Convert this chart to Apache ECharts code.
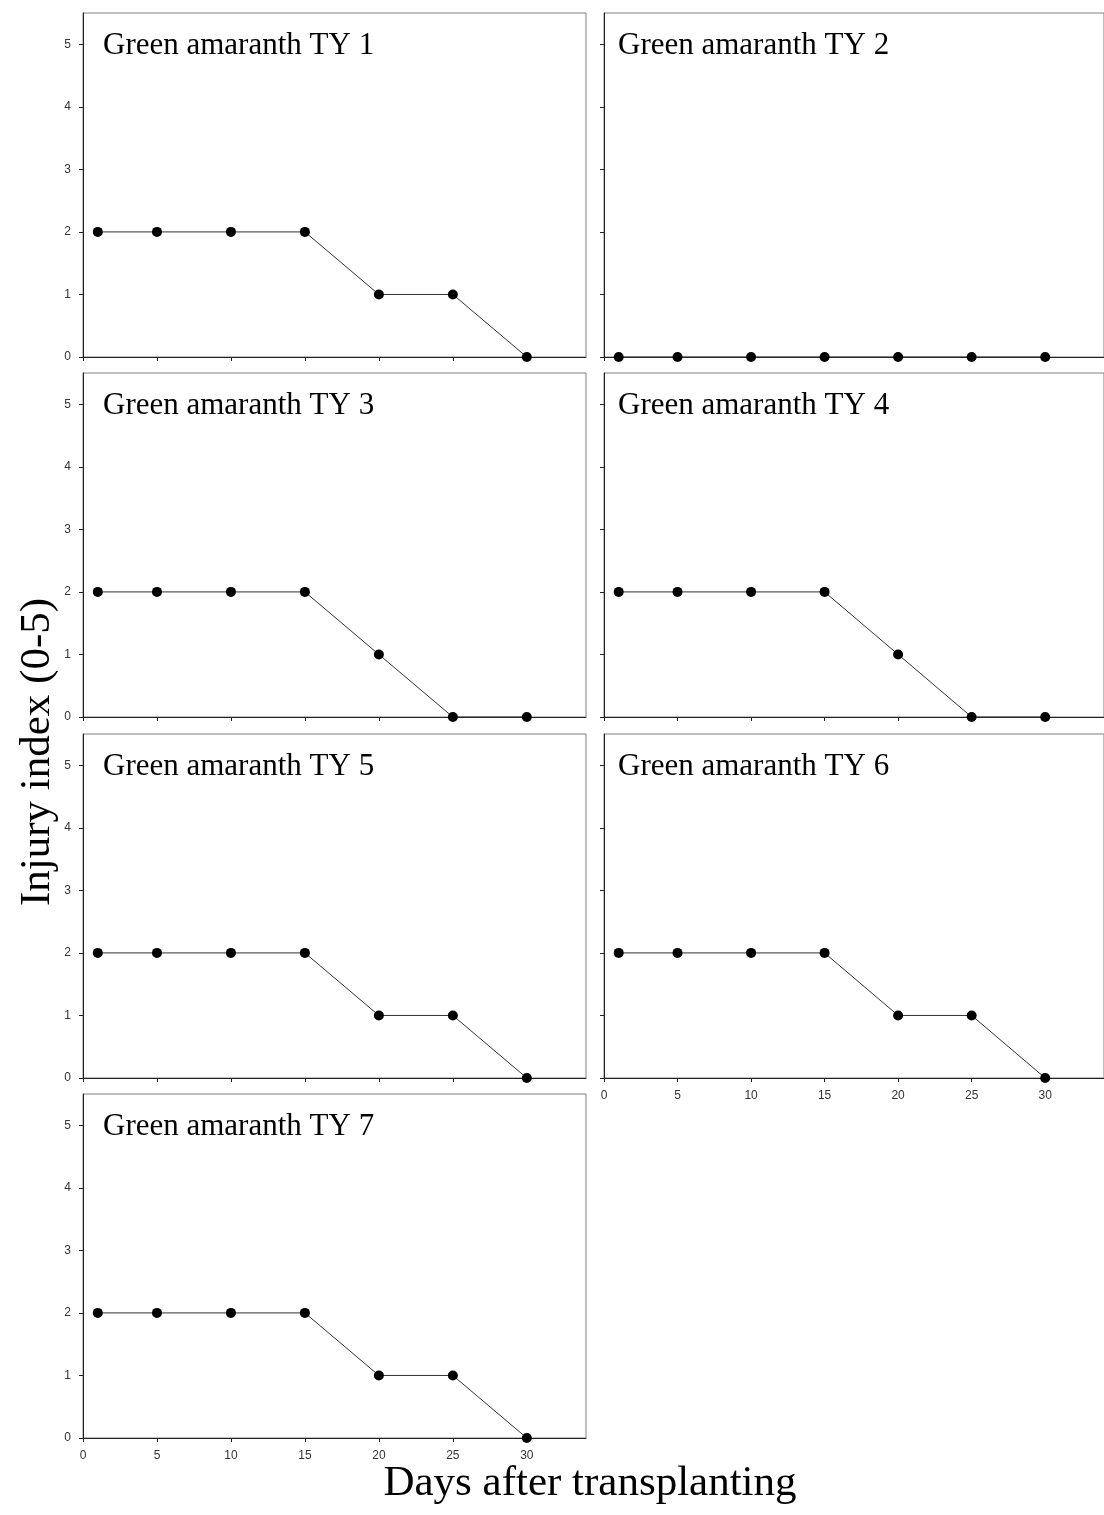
<!DOCTYPE html>
<html><head><meta charset="utf-8">
<script src="https://cdn.jsdelivr.net/npm/echarts@6/dist/echarts.min.js"></script>
<style>html,body{margin:0;padding:0;background:#fff}#c{width:1104px;height:1515px}</style>
</head><body><div id="c"></div>
<script>
var days = [1, 5, 10, 15, 20, 25, 30];
var panelNames = ["Green amaranth TY 1","Green amaranth TY 2","Green amaranth TY 3","Green amaranth TY 4","Green amaranth TY 5","Green amaranth TY 6","Green amaranth TY 7"];
var ty1 = [2, 2, 2, 2, 1, 1, 0];
var ty2 = [0, 0, 0, 0, 0, 0, 0];
var ty3 = [2, 2, 2, 2, 1, 0, 0];
var ty4 = [2, 2, 2, 2, 1, 0, 0];
var ty5 = [2, 2, 2, 2, 1, 1, 0];
var ty6 = [2, 2, 2, 2, 1, 1, 0];
var ty7 = [2, 2, 2, 2, 1, 1, 0];
var seriesData = [ty1, ty2, ty3, ty4, ty5, ty6, ty7];
var yTicks = [0, 1, 2, 3, 4, 5];
var xTicks = [0, 5, 10, 15, 20, 25, 30];
var xTitle = "Days after transplanting";
var yTitle = "Injury index (0-5)";

var colLeft = [83, 604];
var labelOffset = [20, 14];
var rowTop = [13, 373, 734, 1094];
var W = 503, H = 344;
var grids = [], xAxes = [], yAxes = [], series = [], graphics = [];
for (var i = 0; i < 7; i++) {
  var col = i % 2, row = Math.floor(i / 2);
  var showX = (i === 5 || i === 6);
  var showY = (col === 0);
  grids.push({left: colLeft[col], top: rowTop[row], width: W, height: H,
    show: true, borderColor: '#808080', borderWidth: 1, backgroundColor: '#fff', containLabel: false});
  xAxes.push({type: 'value', gridIndex: i, min: 0, max: 34, interval: 5,
    axisLine: {show: true, onZero: false, lineStyle: {color: '#222', width: 1}},
    axisTick: {show: true, inside: false, length: 4, customValues: xTicks, lineStyle: {color: '#222'}},
    axisLabel: {show: showX, customValues: xTicks, color: '#333', fontSize: 12, fontFamily: 'Liberation Sans, Arial, sans-serif', margin: 12},
    splitLine: {show: false}});
  yAxes.push({type: 'value', gridIndex: i, min: 0, max: 5.5, interval: 1,
    axisLine: {show: true, onZero: false, lineStyle: {color: '#222', width: 1}},
    axisTick: {show: true, inside: false, length: 4, customValues: yTicks, lineStyle: {color: '#222'}},
    axisLabel: {show: showY, customValues: yTicks, color: '#333', fontSize: 12, fontFamily: 'Liberation Sans, Arial, sans-serif', margin: 12},
    splitLine: {show: false}});
  series.push({type: 'line', xAxisIndex: i, yAxisIndex: i, clip: false,
    data: days.map(function (d, k) { return [d, seriesData[i][k]]; }),
    symbol: 'circle', symbolSize: 10,
    itemStyle: {color: '#000'}, lineStyle: {color: '#333', width: 1}, z: 5});
  graphics.push({type: 'text', x: colLeft[col] + labelOffset[col], y: rowTop[row] + 33,
    style: {text: panelNames[i], font: '31px "Liberation Serif", "Times New Roman", serif', fill: '#000', verticalAlign: 'middle'}, z: 10});
}
graphics.push({type: 'text', x: 590, y: 1484,
  style: {text: xTitle, font: '43px "Liberation Serif", "Times New Roman", serif', fill: '#000', align: 'center', verticalAlign: 'middle'}});
graphics.push({type: 'text', x: 38, y: 752, rotation: Math.PI / 2,
  style: {text: yTitle, font: '43px "Liberation Serif", "Times New Roman", serif', fill: '#000', align: 'center', verticalAlign: 'middle'}});

var chart = echarts.init(document.getElementById('c'), null, {renderer: 'canvas'});
chart.setOption({
  animation: false,
  backgroundColor: '#fff',
  grid: grids, xAxis: xAxes, yAxis: yAxes, series: series, graphic: graphics
});
</script></body></html>
